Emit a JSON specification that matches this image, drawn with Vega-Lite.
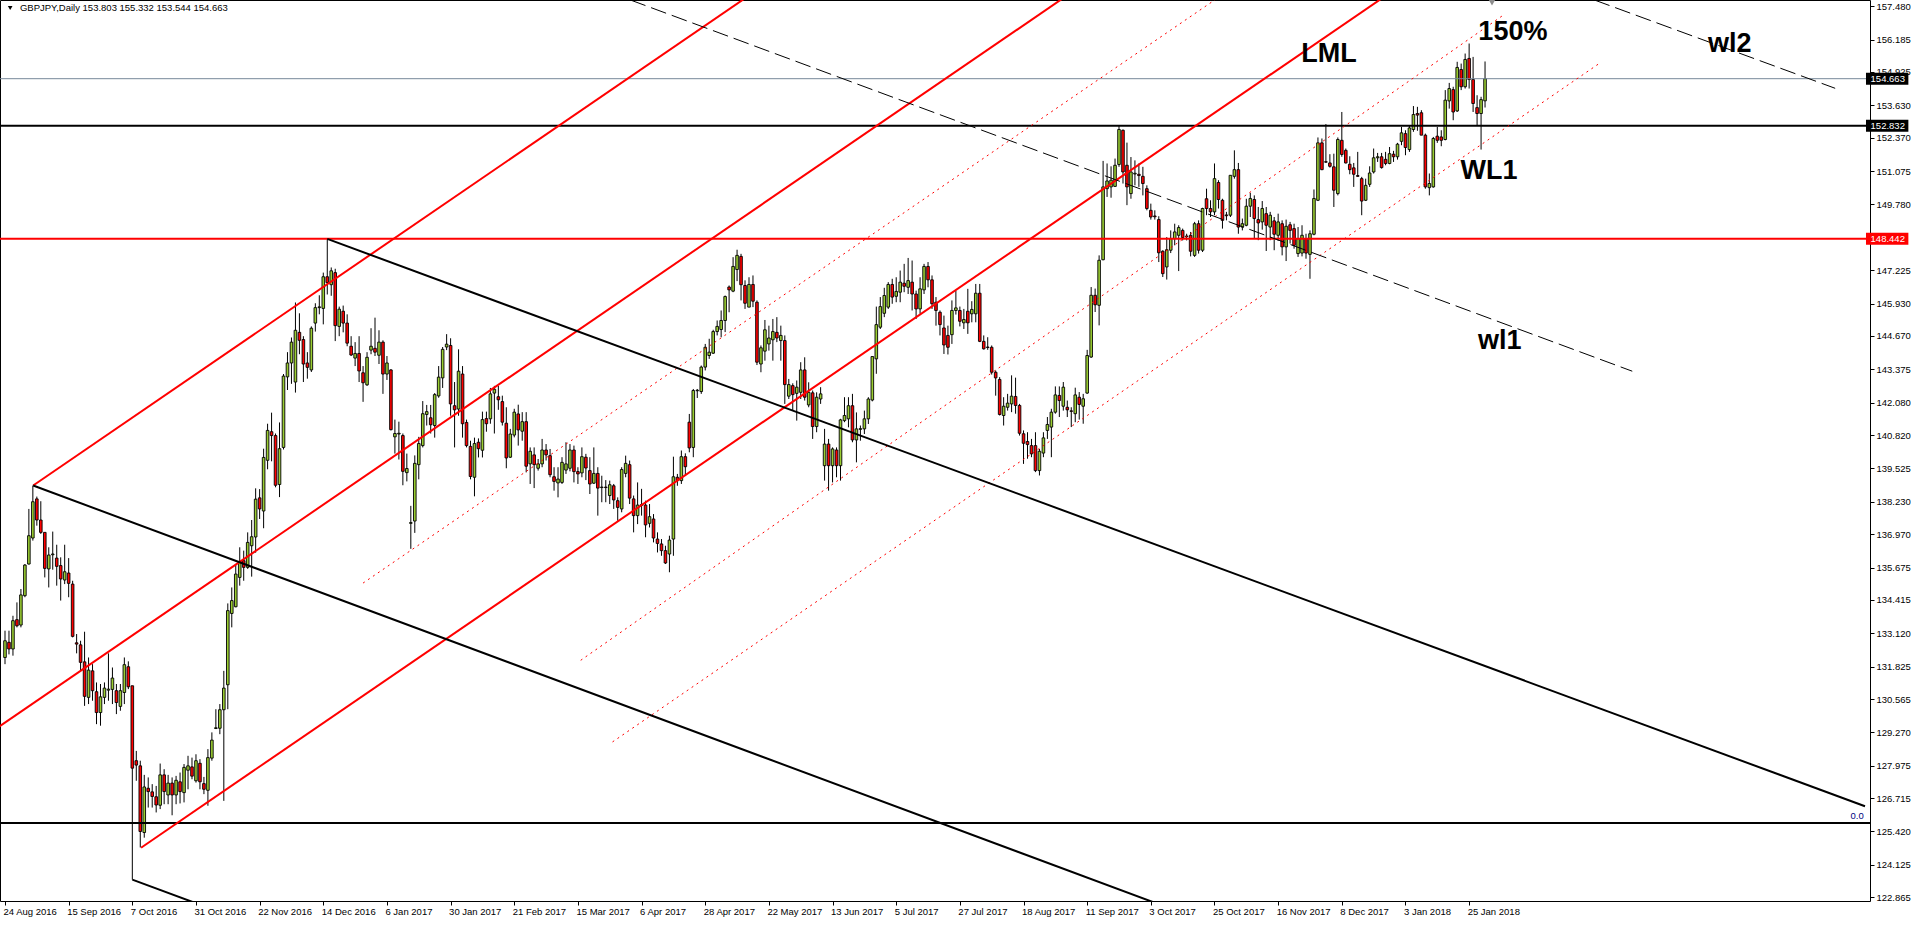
{
"$schema":"https://vega.github.io/schema/vega-lite/v6.json",
"width":1870,"height":901,
"padding":{"left":0,"top":0,"right":45,"bottom":24},
"autosize":{"type":"none"},
"background":"white",
"config":{"view":{"stroke":"black","strokeWidth":1},"font":"Liberation Sans"},
"resolve":{"axis":{"x":"independent","y":"independent"}},
"datasets":{
"candles":[
{"i":0,"o":132.18,"h":133.22,"l":131.92,"c":132.83},{"i":1,"o":132.77,"h":133.22,"l":132.3,"c":132.51},{"i":2,"o":132.51,"h":133.8,"l":132.25,"c":133.61},{"i":3,"o":133.65,"h":134.32,"l":133.35,"c":133.41},{"i":4,"o":133.44,"h":134.84,"l":133.35,"c":134.61},{"i":5,"o":134.58,"h":135.81,"l":134.52,"c":135.77},{"i":6,"o":135.81,"h":137.95,"l":135.79,"c":136.91},{"i":7,"o":136.82,"h":138.86,"l":136.72,"c":138.23},{"i":8,"o":138.34,"h":138.43,"l":137.3,"c":137.52},{"i":9,"o":137.52,"h":138.25,"l":136.98,"c":137.04},
{"i":10,"o":137.04,"h":137.04,"l":135.29,"c":135.64},{"i":11,"o":135.62,"h":136.46,"l":134.9,"c":136.16},{"i":12,"o":136.17,"h":137.07,"l":135.59,"c":136.2},{"i":13,"o":136.04,"h":136.56,"l":134.97,"c":135.72},{"i":14,"o":135.75,"h":136.07,"l":134.39,"c":135.23},{"i":15,"o":135.19,"h":136.56,"l":135.03,"c":135.51},{"i":16,"o":135.46,"h":136.04,"l":134.52,"c":135.06},{"i":17,"o":135.03,"h":135.16,"l":132.96,"c":133.0},{"i":18,"o":132.75,"h":133.09,"l":132.34,"c":132.7},{"i":19,"o":132.67,"h":132.83,"l":131.66,"c":131.99},
{"i":20,"o":132.01,"h":133.18,"l":130.3,"c":130.67},{"i":21,"o":130.63,"h":132.18,"l":130.37,"c":131.69},{"i":22,"o":131.66,"h":131.92,"l":130.5,"c":130.89},{"i":23,"o":130.85,"h":131.21,"l":129.59,"c":130.04},{"i":24,"o":130.04,"h":131.15,"l":129.53,"c":130.65},{"i":25,"o":130.63,"h":131.21,"l":130.37,"c":130.99},{"i":26,"o":130.91,"h":132.34,"l":130.5,"c":130.95},{"i":27,"o":130.94,"h":131.79,"l":130.37,"c":131.38},{"i":28,"o":130.89,"h":131.15,"l":129.98,"c":130.43},{"i":29,"o":130.28,"h":131.15,"l":130.11,"c":130.89},
{"i":30,"o":130.82,"h":132.18,"l":130.37,"c":131.9},{"i":31,"o":131.82,"h":132.03,"l":130.95,"c":131.04},{"i":32,"o":131.08,"h":131.08,"l":123.55,"c":127.88},{"i":33,"o":128.17,"h":128.55,"l":127.39,"c":128.0},{"i":34,"o":127.97,"h":128.17,"l":124.8,"c":125.42},{"i":35,"o":125.38,"h":127.62,"l":125.18,"c":127.15},{"i":36,"o":127.1,"h":127.52,"l":126.35,"c":126.97},{"i":37,"o":126.96,"h":127.26,"l":126.35,"c":126.78},{"i":38,"o":126.77,"h":127.19,"l":126.16,"c":126.45},{"i":39,"o":126.44,"h":128.06,"l":126.29,"c":127.62},
{"i":40,"o":127.62,"h":127.84,"l":126.48,"c":126.97},{"i":41,"o":126.84,"h":127.62,"l":126.48,"c":127.3},{"i":42,"o":127.3,"h":127.52,"l":126.05,"c":126.84},{"i":43,"o":126.84,"h":127.58,"l":126.48,"c":127.41},{"i":44,"o":127.35,"h":127.71,"l":126.51,"c":126.97},{"i":45,"o":126.93,"h":128.04,"l":126.55,"c":127.91},{"i":46,"o":127.8,"h":128.36,"l":127.06,"c":127.97},{"i":47,"o":127.93,"h":128.29,"l":127.45,"c":127.57},{"i":48,"o":127.39,"h":128.42,"l":127.32,"c":128.17},{"i":49,"o":128.07,"h":128.23,"l":127.06,"c":127.35},
{"i":50,"o":127.28,"h":127.54,"l":126.87,"c":127.06},{"i":51,"o":127.02,"h":128.62,"l":126.42,"c":128.29},{"i":52,"o":128.27,"h":129.27,"l":128.17,"c":128.97},{"i":53,"o":129.42,"h":130.17,"l":129.4,"c":129.45},{"i":54,"o":129.43,"h":130.37,"l":129.2,"c":130.15},{"i":55,"o":130.15,"h":131.66,"l":126.61,"c":130.99},{"i":56,"o":131.12,"h":134.28,"l":130.17,"c":134.0},{"i":57,"o":133.89,"h":134.9,"l":133.35,"c":134.39},{"i":58,"o":134.15,"h":135.81,"l":134.13,"c":135.42},{"i":59,"o":135.29,"h":136.46,"l":134.97,"c":135.91},
{"i":60,"o":135.94,"h":136.33,"l":135.16,"c":135.68},{"i":61,"o":135.68,"h":137.04,"l":135.62,"c":136.65},{"i":62,"o":136.52,"h":137.52,"l":135.32,"c":136.87},{"i":63,"o":136.86,"h":138.75,"l":136.25,"c":138.33},{"i":64,"o":138.38,"h":138.72,"l":137.56,"c":137.95},{"i":65,"o":137.87,"h":140.29,"l":137.2,"c":139.95},{"i":66,"o":139.84,"h":141.26,"l":139.49,"c":141.0},{"i":67,"o":140.95,"h":141.69,"l":139.8,"c":140.8},{"i":68,"o":140.8,"h":140.88,"l":138.79,"c":138.87},{"i":69,"o":138.9,"h":141.31,"l":138.41,"c":140.29},
{"i":70,"o":140.34,"h":143.19,"l":140.26,"c":143.11},{"i":71,"o":143.08,"h":144.04,"l":142.57,"c":143.62},{"i":72,"o":143.62,"h":144.61,"l":142.81,"c":144.43},{"i":73,"o":142.88,"h":145.97,"l":142.47,"c":144.89},{"i":74,"o":144.81,"h":145.55,"l":143.96,"c":144.5},{"i":75,"o":144.53,"h":144.66,"l":142.88,"c":143.58},{"i":76,"o":143.62,"h":144.04,"l":143.01,"c":143.45},{"i":77,"o":143.35,"h":145.04,"l":143.27,"c":144.97},{"i":78,"o":145.17,"h":145.94,"l":144.84,"c":145.77},{"i":79,"o":145.77,"h":146.25,"l":145.51,"c":145.8},
{"i":80,"o":145.74,"h":147.13,"l":145.12,"c":146.97},{"i":81,"o":146.97,"h":148.44,"l":146.28,"c":146.74},{"i":82,"o":146.66,"h":147.33,"l":146.23,"c":147.2},{"i":83,"o":147.13,"h":147.28,"l":144.47,"c":145.07},{"i":84,"o":145.04,"h":145.81,"l":144.66,"c":145.71},{"i":85,"o":145.63,"h":145.85,"l":144.81,"c":145.17},{"i":86,"o":145.17,"h":145.51,"l":144.27,"c":144.39},{"i":87,"o":144.27,"h":144.66,"l":143.89,"c":143.93},{"i":88,"o":143.81,"h":144.43,"l":143.5,"c":143.99},{"i":89,"o":143.99,"h":144.66,"l":142.88,"c":143.31},
{"i":90,"o":143.24,"h":143.5,"l":142.11,"c":142.85},{"i":91,"o":142.77,"h":144.04,"l":142.73,"c":143.84},{"i":92,"o":144.12,"h":144.97,"l":143.96,"c":144.27},{"i":93,"o":144.19,"h":145.38,"l":143.89,"c":144.04},{"i":94,"o":143.92,"h":144.89,"l":143.58,"c":144.43},{"i":95,"o":144.43,"h":144.5,"l":142.42,"c":143.19},{"i":96,"o":143.19,"h":143.89,"l":142.96,"c":143.62},{"i":97,"o":143.35,"h":143.38,"l":141.0,"c":141.03},{"i":98,"o":140.75,"h":141.42,"l":140.1,"c":140.88},{"i":99,"o":140.86,"h":141.34,"l":139.87,"c":140.89},
{"i":100,"o":140.8,"h":140.88,"l":138.87,"c":139.41},{"i":101,"o":139.36,"h":140.1,"l":139.02,"c":139.52},{"i":102,"o":137.39,"h":138.07,"l":136.4,"c":137.42},{"i":103,"o":137.48,"h":140.03,"l":137.02,"c":139.72},{"i":104,"o":139.67,"h":140.75,"l":139.1,"c":140.49},{"i":105,"o":140.41,"h":142.14,"l":140.34,"c":141.65},{"i":106,"o":141.62,"h":141.99,"l":141.19,"c":141.73},{"i":107,"o":141.49,"h":141.99,"l":140.88,"c":141.22},{"i":108,"o":141.19,"h":142.45,"l":140.72,"c":142.39},{"i":109,"o":142.34,"h":143.5,"l":142.27,"c":143.07},
{"i":110,"o":143.04,"h":144.24,"l":142.65,"c":144.15},{"i":111,"o":144.24,"h":144.74,"l":144.12,"c":144.35},{"i":112,"o":144.3,"h":144.58,"l":141.57,"c":142.03},{"i":113,"o":141.96,"h":142.88,"l":140.34,"c":141.8},{"i":114,"o":141.83,"h":144.15,"l":141.57,"c":143.3},{"i":115,"o":143.19,"h":143.5,"l":140.72,"c":141.26},{"i":116,"o":141.31,"h":141.42,"l":140.34,"c":140.41},{"i":117,"o":140.38,"h":140.6,"l":139.1,"c":139.21},{"i":118,"o":139.18,"h":140.72,"l":138.44,"c":140.49},{"i":119,"o":140.54,"h":140.69,"l":139.95,"c":140.29},
{"i":120,"o":140.23,"h":141.73,"l":139.95,"c":141.42},{"i":121,"o":141.46,"h":141.73,"l":140.95,"c":141.26},{"i":122,"o":141.45,"h":142.65,"l":141.26,"c":142.42},{"i":123,"o":142.45,"h":142.73,"l":140.88,"c":142.6},{"i":124,"o":142.31,"h":142.73,"l":141.8,"c":142.19},{"i":125,"o":142.12,"h":142.35,"l":141.19,"c":141.32},{"i":126,"o":141.28,"h":141.9,"l":139.53,"c":139.93},{"i":127,"o":139.96,"h":141.06,"l":139.93,"c":140.86},{"i":128,"o":140.82,"h":141.84,"l":140.73,"c":141.71},{"i":129,"o":141.64,"h":142.0,"l":140.41,"c":141.02},
{"i":130,"o":140.97,"h":141.71,"l":140.6,"c":141.34},{"i":131,"o":141.34,"h":141.71,"l":139.37,"c":139.61},{"i":132,"o":139.7,"h":140.34,"l":138.92,"c":140.19},{"i":133,"o":140.05,"h":140.34,"l":138.76,"c":139.67},{"i":134,"o":139.53,"h":139.89,"l":139.44,"c":139.7},{"i":135,"o":139.7,"h":140.67,"l":139.57,"c":140.24},{"i":136,"o":140.24,"h":140.47,"l":139.83,"c":140.05},{"i":137,"o":140.02,"h":140.28,"l":139.18,"c":139.28},{"i":138,"o":139.2,"h":139.57,"l":138.66,"c":139.02},{"i":139,"o":138.96,"h":139.57,"l":138.4,"c":139.11},
{"i":140,"o":138.98,"h":139.96,"l":138.92,"c":139.76},{"i":141,"o":139.46,"h":140.54,"l":139.31,"c":139.7},{"i":142,"o":139.53,"h":140.47,"l":139.41,"c":140.24},{"i":143,"o":140.24,"h":140.41,"l":138.98,"c":139.4},{"i":144,"o":139.4,"h":139.57,"l":138.92,"c":139.31},{"i":145,"o":139.35,"h":140.34,"l":139.18,"c":139.98},{"i":146,"o":139.96,"h":140.09,"l":139.07,"c":139.54},{"i":147,"o":139.44,"h":139.96,"l":138.53,"c":138.92},{"i":148,"o":138.95,"h":140.34,"l":138.92,"c":139.33},{"i":149,"o":139.33,"h":139.57,"l":137.69,"c":138.76},
{"i":150,"o":138.78,"h":139.24,"l":138.21,"c":138.8},{"i":151,"o":138.8,"h":139.07,"l":138.21,"c":138.78},{"i":152,"o":138.47,"h":139.05,"l":138.14,"c":138.89},{"i":153,"o":138.85,"h":138.92,"l":137.95,"c":138.3},{"i":154,"o":138.27,"h":138.4,"l":137.49,"c":138.01},{"i":155,"o":137.95,"h":139.57,"l":137.82,"c":139.48},{"i":156,"o":139.33,"h":140.02,"l":139.18,"c":139.72},{"i":157,"o":139.67,"h":139.83,"l":138.14,"c":138.37},{"i":158,"o":138.34,"h":138.47,"l":137.04,"c":137.69},{"i":159,"o":137.69,"h":138.98,"l":137.36,"c":138.1},
{"i":160,"o":138.09,"h":138.73,"l":137.69,"c":138.12},{"i":161,"o":138.1,"h":138.27,"l":136.85,"c":137.33},{"i":162,"o":137.39,"h":138.14,"l":137.23,"c":137.65},{"i":163,"o":137.56,"h":137.75,"l":136.65,"c":136.82},{"i":164,"o":136.78,"h":137.04,"l":136.26,"c":136.61},{"i":165,"o":136.59,"h":136.78,"l":136.13,"c":136.33},{"i":166,"o":136.33,"h":136.52,"l":135.81,"c":135.85},{"i":167,"o":136.2,"h":136.91,"l":135.49,"c":136.74},{"i":168,"o":136.78,"h":139.98,"l":136.13,"c":139.2},{"i":169,"o":139.18,"h":139.31,"l":138.85,"c":139.05},
{"i":170,"o":139.05,"h":140.22,"l":138.92,"c":139.98},{"i":171,"o":139.98,"h":140.11,"l":139.24,"c":139.59},{"i":172,"o":141.32,"h":141.64,"l":140.15,"c":140.32},{"i":173,"o":140.34,"h":142.61,"l":139.96,"c":142.55},{"i":174,"o":142.54,"h":142.61,"l":142.26,"c":142.56},{"i":175,"o":142.51,"h":143.52,"l":142.42,"c":143.46},{"i":176,"o":143.46,"h":144.36,"l":143.33,"c":144.23},{"i":177,"o":143.91,"h":144.56,"l":143.78,"c":144.04},{"i":178,"o":144.0,"h":144.91,"l":143.97,"c":144.84},{"i":179,"o":144.84,"h":145.27,"l":144.69,"c":145.04},
{"i":180,"o":144.92,"h":145.66,"l":144.62,"c":145.27},{"i":181,"o":145.27,"h":146.24,"l":144.82,"c":146.2},{"i":182,"o":146.57,"h":146.63,"l":145.59,"c":146.46},{"i":183,"o":146.41,"h":147.73,"l":146.37,"c":147.37},{"i":184,"o":147.25,"h":148.02,"l":146.8,"c":147.8},{"i":185,"o":147.76,"h":147.86,"l":146.05,"c":146.66},{"i":186,"o":146.63,"h":146.83,"l":145.72,"c":145.94},{"i":187,"o":145.79,"h":146.95,"l":145.79,"c":146.67},{"i":188,"o":146.67,"h":147.02,"l":145.79,"c":146.02},{"i":189,"o":145.98,"h":146.05,"l":143.54,"c":143.65},
{"i":190,"o":143.58,"h":144.3,"l":143.26,"c":144.21},{"i":191,"o":144.08,"h":145.29,"l":143.71,"c":144.91},{"i":192,"o":144.36,"h":145.07,"l":144.1,"c":144.59},{"i":193,"o":144.52,"h":145.33,"l":143.71,"c":144.84},{"i":194,"o":144.81,"h":145.4,"l":144.43,"c":144.59},{"i":195,"o":144.49,"h":145.07,"l":143.71,"c":144.69},{"i":196,"o":144.49,"h":144.69,"l":142.03,"c":142.78},{"i":197,"o":142.33,"h":143.0,"l":142.22,"c":142.78},{"i":198,"o":142.74,"h":142.83,"l":141.77,"c":142.39},{"i":199,"o":142.44,"h":142.94,"l":141.38,"c":142.68},
{"i":200,"o":142.48,"h":143.65,"l":142.22,"c":143.35},{"i":201,"o":143.35,"h":143.84,"l":142.16,"c":142.29},{"i":202,"o":141.99,"h":142.87,"l":141.9,"c":142.48},{"i":203,"o":142.46,"h":142.55,"l":140.67,"c":141.15},{"i":204,"o":141.15,"h":142.48,"l":140.93,"c":142.29},{"i":205,"o":142.22,"h":142.68,"l":142.03,"c":142.42},{"i":206,"o":139.63,"h":141.06,"l":139.05,"c":140.47},{"i":207,"o":140.47,"h":140.67,"l":138.66,"c":139.63},{"i":208,"o":139.63,"h":140.34,"l":138.98,"c":140.28},{"i":209,"o":140.24,"h":140.34,"l":139.18,"c":139.63},
{"i":210,"o":139.63,"h":141.45,"l":139.05,"c":141.41},{"i":211,"o":141.38,"h":142.29,"l":141.32,"c":141.58},{"i":212,"o":141.45,"h":142.29,"l":141.12,"c":141.96},{"i":213,"o":141.96,"h":142.42,"l":140.54,"c":140.63},{"i":214,"o":140.63,"h":141.7,"l":139.76,"c":141.06},{"i":215,"o":141.04,"h":141.19,"l":140.6,"c":141.07},{"i":216,"o":141.06,"h":141.77,"l":140.86,"c":141.45},{"i":217,"o":141.45,"h":142.29,"l":141.25,"c":142.22},{"i":218,"o":142.18,"h":143.87,"l":142.13,"c":143.87},{"i":219,"o":143.78,"h":145.81,"l":143.2,"c":145.11},
{"i":220,"o":145.01,"h":146.18,"l":144.94,"c":145.81},{"i":221,"o":145.55,"h":146.54,"l":145.4,"c":146.24},{"i":222,"o":145.79,"h":146.76,"l":145.72,"c":146.67},{"i":223,"o":146.67,"h":146.89,"l":145.92,"c":146.18},{"i":224,"o":146.21,"h":146.95,"l":145.98,"c":146.4},{"i":225,"o":146.37,"h":147.21,"l":145.98,"c":146.76},{"i":226,"o":146.72,"h":147.47,"l":146.37,"c":146.6},{"i":227,"o":146.56,"h":147.7,"l":146.3,"c":146.82},{"i":228,"o":146.76,"h":147.6,"l":145.66,"c":146.3},{"i":229,"o":146.3,"h":146.43,"l":145.33,"c":145.72},
{"i":230,"o":145.72,"h":146.95,"l":145.53,"c":146.5},{"i":231,"o":146.46,"h":147.47,"l":146.3,"c":147.37},{"i":232,"o":147.37,"h":147.54,"l":146.56,"c":146.85},{"i":233,"o":146.85,"h":147.02,"l":145.72,"c":145.92},{"i":234,"o":145.98,"h":146.18,"l":145.07,"c":145.66},{"i":235,"o":145.59,"h":145.66,"l":144.69,"c":145.11},{"i":236,"o":144.98,"h":145.46,"l":143.97,"c":144.32},{"i":237,"o":144.69,"h":145.07,"l":143.95,"c":144.23},{"i":238,"o":144.72,"h":146.05,"l":144.36,"c":145.66},{"i":239,"o":145.66,"h":146.43,"l":145.5,"c":145.76},
{"i":240,"o":145.66,"h":145.81,"l":145.04,"c":145.24},{"i":241,"o":145.18,"h":145.72,"l":144.94,"c":145.31},{"i":242,"o":145.63,"h":146.5,"l":144.75,"c":145.18},{"i":243,"o":145.53,"h":146.02,"l":145.2,"c":145.7},{"i":244,"o":145.53,"h":146.69,"l":145.2,"c":146.33},{"i":245,"o":146.33,"h":146.69,"l":144.43,"c":144.46},{"i":246,"o":144.46,"h":144.69,"l":144.14,"c":144.17},{"i":247,"o":144.24,"h":144.62,"l":144.13,"c":144.22},{"i":248,"o":144.23,"h":144.3,"l":143.17,"c":143.26},{"i":249,"o":143.26,"h":143.33,"l":142.35,"c":143.04},
{"i":250,"o":142.98,"h":143.07,"l":141.58,"c":141.62},{"i":251,"o":141.58,"h":142.29,"l":141.19,"c":141.94},{"i":252,"o":141.9,"h":142.42,"l":141.77,"c":142.06},{"i":253,"o":142.03,"h":143.14,"l":141.71,"c":142.33},{"i":254,"o":142.32,"h":143.05,"l":141.65,"c":141.97},{"i":255,"o":141.97,"h":142.03,"l":140.8,"c":140.89},{"i":256,"o":140.87,"h":141.0,"l":139.7,"c":140.5},{"i":257,"o":140.57,"h":140.93,"l":139.9,"c":140.45},{"i":258,"o":140.41,"h":140.67,"l":139.96,"c":140.09},{"i":259,"o":140.41,"h":140.93,"l":139.38,"c":139.44},
{"i":260,"o":139.44,"h":140.28,"l":139.25,"c":140.19},{"i":261,"o":140.12,"h":140.93,"l":139.96,"c":140.71},{"i":262,"o":141.0,"h":141.52,"l":140.67,"c":141.23},{"i":263,"o":141.13,"h":141.84,"l":139.96,"c":141.71},{"i":264,"o":141.71,"h":142.71,"l":141.65,"c":142.38},{"i":265,"o":142.36,"h":142.71,"l":141.52,"c":142.16},{"i":266,"o":141.94,"h":142.88,"l":141.77,"c":142.68},{"i":267,"o":141.9,"h":142.16,"l":141.52,"c":141.8},{"i":268,"o":141.76,"h":141.9,"l":141.13,"c":141.74},{"i":269,"o":141.65,"h":142.66,"l":141.32,"c":142.38},
{"i":270,"o":142.29,"h":142.49,"l":141.42,"c":142.01},{"i":271,"o":141.94,"h":142.42,"l":141.26,"c":142.23},{"i":272,"o":142.45,"h":144.13,"l":142.42,"c":143.91},{"i":273,"o":143.85,"h":146.57,"l":143.82,"c":146.25},{"i":274,"o":146.25,"h":146.51,"l":145.6,"c":145.88},{"i":275,"o":145.86,"h":147.8,"l":145.08,"c":147.61},{"i":276,"o":147.63,"h":151.47,"l":147.61,"c":150.46},{"i":277,"o":150.39,"h":151.37,"l":150.07,"c":150.69},{"i":278,"o":150.46,"h":151.26,"l":150.04,"c":150.72},{"i":279,"o":150.48,"h":151.56,"l":150.46,"c":151.3},
{"i":280,"o":151.33,"h":152.83,"l":151.24,"c":152.69},{"i":281,"o":152.66,"h":152.69,"l":150.59,"c":151.04},{"i":282,"o":151.3,"h":152.18,"l":149.75,"c":150.46},{"i":283,"o":150.2,"h":151.62,"l":150.0,"c":151.04},{"i":284,"o":150.96,"h":151.49,"l":150.52,"c":150.99},{"i":285,"o":150.95,"h":151.37,"l":150.46,"c":150.9},{"i":286,"o":150.87,"h":151.24,"l":150.13,"c":150.59},{"i":287,"o":150.39,"h":150.52,"l":149.55,"c":149.62},{"i":288,"o":149.55,"h":149.81,"l":149.19,"c":149.29},{"i":289,"o":149.33,"h":149.55,"l":149.19,"c":149.3},
{"i":290,"o":149.19,"h":149.32,"l":147.54,"c":147.9},{"i":291,"o":147.96,"h":148.0,"l":146.96,"c":147.09},{"i":292,"o":147.35,"h":148.51,"l":146.86,"c":148.02},{"i":293,"o":148.0,"h":148.77,"l":147.89,"c":148.45},{"i":294,"o":148.45,"h":149.03,"l":148.19,"c":148.71},{"i":295,"o":148.58,"h":148.97,"l":147.19,"c":148.88},{"i":296,"o":148.77,"h":148.84,"l":148.38,"c":148.49},{"i":297,"o":148.55,"h":148.64,"l":148.38,"c":148.53},{"i":298,"o":148.58,"h":148.71,"l":147.76,"c":147.96},{"i":299,"o":147.8,"h":149.1,"l":147.74,"c":149.03},
{"i":300,"o":149.03,"h":149.16,"l":147.87,"c":148.0},{"i":301,"o":148.0,"h":149.65,"l":147.93,"c":149.62},{"i":302,"o":150.0,"h":150.39,"l":149.36,"c":149.62},{"i":303,"o":149.62,"h":149.94,"l":149.29,"c":149.49},{"i":304,"o":149.49,"h":151.37,"l":149.36,"c":150.78},{"i":305,"o":150.63,"h":150.72,"l":149.62,"c":149.97},{"i":306,"o":149.94,"h":150.0,"l":148.84,"c":149.16},{"i":307,"o":149.37,"h":149.49,"l":149.16,"c":149.34},{"i":308,"o":149.36,"h":150.91,"l":149.29,"c":150.91},{"i":309,"o":150.87,"h":151.88,"l":150.78,"c":151.13},
{"i":310,"o":151.13,"h":151.39,"l":148.64,"c":148.9},{"i":311,"o":148.9,"h":149.23,"l":148.77,"c":149.03},{"i":312,"o":148.97,"h":150.0,"l":148.93,"c":149.71},{"i":313,"o":149.71,"h":150.23,"l":149.29,"c":150.01},{"i":314,"o":149.97,"h":150.13,"l":148.45,"c":149.23},{"i":315,"o":149.19,"h":149.68,"l":148.39,"c":149.06},{"i":316,"o":149.1,"h":149.91,"l":148.8,"c":149.62},{"i":317,"o":149.42,"h":149.68,"l":147.97,"c":148.97},{"i":318,"o":148.9,"h":149.49,"l":148.39,"c":149.36},{"i":319,"o":149.14,"h":149.29,"l":148.0,"c":148.62},
{"i":320,"o":148.58,"h":149.42,"l":148.36,"c":149.1},{"i":321,"o":149.03,"h":149.16,"l":147.8,"c":148.13},{"i":322,"o":148.13,"h":149.19,"l":147.58,"c":148.93},{"i":323,"o":148.99,"h":149.1,"l":148.26,"c":148.77},{"i":324,"o":148.84,"h":149.03,"l":148.06,"c":148.19},{"i":325,"o":147.87,"h":148.9,"l":147.74,"c":148.45},{"i":326,"o":147.89,"h":148.97,"l":147.76,"c":148.58},{"i":327,"o":148.45,"h":148.64,"l":147.67,"c":147.89},{"i":328,"o":147.84,"h":148.77,"l":146.89,"c":148.64},{"i":329,"o":148.62,"h":150.36,"l":148.58,"c":150.01},
{"i":330,"o":149.94,"h":152.38,"l":149.91,"c":152.17},{"i":331,"o":152.17,"h":152.34,"l":151.11,"c":151.13},{"i":332,"o":151.44,"h":152.9,"l":151.39,"c":151.42},{"i":333,"o":151.39,"h":151.73,"l":151.21,"c":151.26},{"i":334,"o":151.24,"h":151.75,"l":149.68,"c":150.33},{"i":335,"o":150.2,"h":152.38,"l":150.13,"c":152.3},{"i":336,"o":152.27,"h":153.37,"l":151.63,"c":151.72},{"i":337,"o":151.88,"h":151.95,"l":151.37,"c":151.39},{"i":338,"o":151.34,"h":151.65,"l":150.95,"c":151.13},{"i":339,"o":151.2,"h":151.39,"l":150.46,"c":150.95},
{"i":340,"o":150.9,"h":151.82,"l":150.85,"c":150.87},{"i":341,"o":150.78,"h":150.85,"l":149.36,"c":149.91},{"i":342,"o":149.94,"h":150.78,"l":149.91,"c":150.52},{"i":343,"o":150.56,"h":151.26,"l":150.46,"c":151.0},{"i":344,"o":151.04,"h":151.95,"l":150.98,"c":151.59},{"i":345,"o":151.59,"h":151.78,"l":151.43,"c":151.63},{"i":346,"o":151.63,"h":151.78,"l":151.17,"c":151.21},{"i":347,"o":151.53,"h":151.82,"l":151.3,"c":151.37},{"i":348,"o":151.37,"h":152.01,"l":151.34,"c":151.75},{"i":349,"o":151.73,"h":151.86,"l":151.43,"c":151.63},
{"i":350,"o":151.63,"h":152.17,"l":151.52,"c":152.12},{"i":351,"o":152.23,"h":152.79,"l":152.08,"c":152.56},{"i":352,"o":152.53,"h":152.66,"l":151.69,"c":151.99},{"i":353,"o":151.91,"h":152.86,"l":151.82,"c":152.75},{"i":354,"o":152.69,"h":153.6,"l":152.6,"c":153.27},{"i":355,"o":153.31,"h":153.57,"l":152.64,"c":153.25},{"i":356,"o":153.34,"h":153.44,"l":152.47,"c":152.47},{"i":357,"o":152.47,"h":152.53,"l":150.39,"c":150.46},{"i":358,"o":150.43,"h":150.98,"l":150.13,"c":150.59},{"i":359,"o":150.46,"h":152.4,"l":150.43,"c":152.34},
{"i":360,"o":152.43,"h":152.79,"l":152.17,"c":152.27},{"i":361,"o":152.4,"h":152.66,"l":152.04,"c":152.27},{"i":362,"o":152.3,"h":154.22,"l":152.27,"c":153.83},{"i":363,"o":153.8,"h":154.5,"l":153.5,"c":154.28},{"i":364,"o":154.24,"h":154.35,"l":153.05,"c":153.37},{"i":365,"o":153.41,"h":155.32,"l":153.37,"c":155.1},{"i":366,"o":155.02,"h":155.25,"l":154.22,"c":154.35},{"i":367,"o":154.35,"h":155.64,"l":154.28,"c":155.41},{"i":368,"o":155.45,"h":156.03,"l":154.28,"c":154.63},{"i":369,"o":154.63,"h":155.51,"l":153.37,"c":153.7},
{"i":370,"o":153.54,"h":154.02,"l":152.86,"c":153.31},{"i":371,"o":153.31,"h":153.96,"l":151.91,"c":153.85},{"i":372,"o":153.803,"h":155.332,"l":153.544,"c":154.663}
],
"redSolid":[{"line":"L1","i":7.08,"p":138.86},{"line":"L1","i":190,"p":158.21},{"line":"L2","i":-2,"p":129.44},{"line":"L2","i":270,"p":158.22},{"line":"L3","i":34.2,"p":124.79},{"line":"L3","i":350,"p":158.2}],
"redDotted":[{"line":"D1","i":90,"p":135.07},{"line":"D1","i":310,"p":158.35},{"line":"D2","i":144.7,"p":132.07},{"line":"D2","i":376.75,"p":157.15},{"line":"D3","i":152.7,"p":128.9},{"line":"D3","i":400.75,"p":155.26}],
"blackSolid":[{"line":"B1","i":7.08,"p":138.86},{"line":"B1","i":300,"p":122.02},{"line":"B2","i":81,"p":148.44},{"line":"B2","i":467.5,"p":126.4},{"line":"B3","i":32,"p":123.55},{"line":"B3","i":50,"p":122.52}],
"blackDashed":[{"line":"wl1","i":157.2,"p":157.72},{"line":"wl1","i":409,"p":143.3},{"line":"wl2","i":399.5,"p":157.72},{"line":"wl2","i":460,"p":154.29}],
"levels":[{"level":"bid","p":154.663},{"level":"resistance","p":152.832},{"level":"support","p":148.442},{"level":"base","p":125.75}],
"notes":[{"t":"150%","i":379,"p":156.16},{"t":"LML","i":332.8,"p":155.3},{"t":"wl2","i":433.5,"p":155.69},{"t":"WL1","i":373,"p":150.75},{"t":"wl1","i":375.7,"p":144.18}],
"header":[{"t":"GBPJPY,Daily  153.803 155.332 153.544 154.663","i":3.75,"p":157.28}]
},
"layer":[
{"data":{"name":"candles"},"mark":{"type":"rule","color":"black","strokeWidth":1,"clip":true},
 "encoding":{
  "x":{"field":"i","type":"quantitative","scale":{"domain":[0,467.5],"nice":false,"zero":false},
   "axis":{"orient":"bottom","title":null,"grid":false,"domain":false,"values":[0,16,32,48,64,80,96,112,128,144,160,176,192,208,224,240,256,272,288,304,320,336,352,368],
    "labelExpr":"['24 Aug 2016','15 Sep 2016','7 Oct 2016','31 Oct 2016','22 Nov 2016','14 Dec 2016','6 Jan 2017','30 Jan 2017','21 Feb 2017','15 Mar 2017','6 Apr 2017','28 Apr 2017','22 May 2017','13 Jun 2017','5 Jul 2017','27 Jul 2017','18 Aug 2017','11 Sep 2017','3 Oct 2017','25 Oct 2017','16 Nov 2017','8 Dec 2017','3 Jan 2018','25 Jan 2018'][round(datum.value/16)]",
    "labelAlign":"left","labelOffset":-2,"labelBaseline":"top","tickSize":4,"tickColor":"black","labelPadding":1,"labelFontSize":9.5,"labelFont":"Liberation Sans","labelColor":"black","labelOverlap":false,"labelBound":false,"labelFlush":false}},
  "y":{"field":"l","type":"quantitative","scale":{"domain":[122.72,157.72],"nice":false,"zero":false},
   "axis":{"orient":"right","title":null,"grid":false,"domain":false,"values":[157.48,156.185,154.925,153.63,152.37,151.075,149.78,147.225,145.93,144.67,143.375,142.08,140.82,139.525,138.23,136.97,135.675,134.415,133.12,131.825,130.565,129.27,127.975,126.715,125.42,124.125,122.865],
    "format":".3f","labelAlign":"left","labelBaseline":"middle","tickSize":4,"tickColor":"black","labelPadding":2,"labelFontSize":9.5,"labelFont":"Liberation Sans","labelColor":"black","labelOverlap":false,"labelBound":false,"labelFlush":false}},
  "y2":{"field":"h"}}},
{"data":{"name":"candles"},"mark":{"type":"bar","width":2.6,"stroke":"black","strokeWidth":0.9,"clip":true},
 "encoding":{"x":{"field":"i","type":"quantitative","axis":null},"y":{"field":"o","type":"quantitative","axis":null},"y2":{"field":"c"},
  "fill":{"condition":{"test":"datum.c >= datum.o","value":"#9acd32"},"value":"#ff0000"}}},
{"data":{"name":"levels"},"transform":[{"filter":"datum.level == 'bid'"}],"mark":{"type":"rule","color":"#778899","strokeWidth":1},"encoding":{"y":{"field":"p","type":"quantitative","axis":null}}},
{"data":{"name":"levels"},"transform":[{"filter":"datum.level == 'resistance' || datum.level == 'base'"}],"mark":{"type":"rule","color":"black","strokeWidth":2},"encoding":{"y":{"field":"p","type":"quantitative","axis":null}}},
{"data":{"name":"levels"},"transform":[{"filter":"datum.level == 'support'"}],"mark":{"type":"rule","color":"#ff0000","strokeWidth":2},"encoding":{"y":{"field":"p","type":"quantitative","axis":null}}},
{"data":{"name":"redSolid"},"mark":{"type":"line","color":"#ff0000","strokeWidth":2,"clip":true},"encoding":{"x":{"field":"i","type":"quantitative","axis":null},"y":{"field":"p","type":"quantitative","axis":null},"detail":{"field":"line"}}},
{"data":{"name":"redDotted"},"mark":{"type":"line","color":"#ff0000","strokeWidth":1,"strokeDash":[2,4],"clip":true},"encoding":{"x":{"field":"i","type":"quantitative","axis":null},"y":{"field":"p","type":"quantitative","axis":null},"detail":{"field":"line"}}},
{"data":{"name":"blackSolid"},"mark":{"type":"line","color":"black","strokeWidth":2,"clip":true},"encoding":{"x":{"field":"i","type":"quantitative","axis":null},"y":{"field":"p","type":"quantitative","axis":null},"detail":{"field":"line"}}},
{"data":{"name":"blackDashed"},"mark":{"type":"line","color":"black","strokeWidth":1,"strokeDash":[16,6],"clip":true},"encoding":{"x":{"field":"i","type":"quantitative","axis":null},"y":{"field":"p","type":"quantitative","axis":null},"detail":{"field":"line"}}},
{"data":{"name":"notes"},"mark":{"type":"text","font":"Liberation Sans","fontWeight":"bold","fontSize":27,"color":"black","align":"center","baseline":"alphabetic"},"encoding":{"x":{"field":"i","type":"quantitative","axis":null},"y":{"field":"p","type":"quantitative","axis":null},"text":{"field":"t"}}},
{"data":{"name":"header"},"mark":{"type":"text","font":"Liberation Sans","fontSize":9.5,"color":"black","align":"left","baseline":"alphabetic"},"encoding":{"x":{"field":"i","type":"quantitative","axis":null},"y":{"field":"p","type":"quantitative","axis":null},"text":{"field":"t"}}},
{"data":{"values":[{"p":157.41}]},"mark":{"type":"point","shape":"triangle-down","filled":true,"color":"black","size":22,"opacity":1},"encoding":{"x":{"datum":1.3,"type":"quantitative","axis":null},"y":{"field":"p","type":"quantitative","axis":null}}},
{"data":{"values":[{"p":157.62}]},"mark":{"type":"point","shape":"triangle-down","filled":true,"color":"#8c8c8c","size":45,"opacity":1},"encoding":{"x":{"datum":373.75,"type":"quantitative","axis":null},"y":{"field":"p","type":"quantitative","axis":null}}},
{"data":{"name":"levels"},"transform":[{"filter":"datum.level == 'base'"}],"mark":{"type":"text","font":"Liberation Sans","fontSize":9.5,"color":"#000080","align":"right","baseline":"bottom","dy":-2,"text":"0.0"},"encoding":{"x":{"datum":467.2,"type":"quantitative","axis":null},"y":{"field":"p","type":"quantitative","axis":null}}},
{"data":{"name":"levels"},"transform":[{"filter":"datum.level == 'bid' || datum.level == 'resistance'"}],"mark":{"type":"rule","color":"black","strokeWidth":12,"strokeCap":"butt","clip":false},"encoding":{"x":{"datum":467.75,"type":"quantitative","axis":null},"x2":{"datum":478.4},"y":{"field":"p","type":"quantitative","axis":null}}},
{"data":{"name":"levels"},"transform":[{"filter":"datum.level == 'support'"}],"mark":{"type":"rule","color":"#ff0000","strokeWidth":12,"strokeCap":"butt","clip":false},"encoding":{"x":{"datum":467.75,"type":"quantitative","axis":null},"x2":{"datum":478.4},"y":{"field":"p","type":"quantitative","axis":null}}},
{"data":{"name":"levels"},"transform":[{"filter":"datum.level != 'base'"}],"mark":{"type":"text","font":"Liberation Sans","fontSize":9.5,"color":"white","align":"left","baseline":"middle","clip":false},"encoding":{"x":{"datum":468.9,"type":"quantitative","axis":null},"y":{"field":"p","type":"quantitative","axis":null},"text":{"field":"p","type":"quantitative","format":".3f"}}}
]
}
